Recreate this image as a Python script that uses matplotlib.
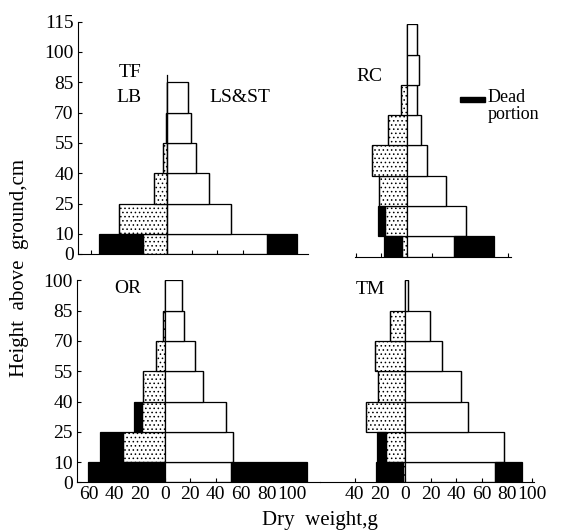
import matplotlib
matplotlib.use("Agg")
import matplotlib.pyplot as plt
from matplotlib.patches import Rectangle
from matplotlib.ticker import FuncFormatter

# layer bottoms / thicknesses (cm above ground)
layer_bottom = [0, 10, 25, 40, 55, 70, 85, 100]
layer_height = [10, 15, 15, 15, 15, 15, 15, 15]

# dry weight per layer, g  (LB = leaf blade, LS&ST = leaf sheath & stem)
tf_lb_live = [19, 37.5, 10, 2.6, 0.8, 0]
tf_lb_dead = [34, 0, 0, 0, 0, 0]
tf_ls_live = [79, 50.6, 33, 23.3, 19.4, 17]
tf_ls_dead = [23.6, 0, 0, 0, 0, 0]

rc_lb_live = [4, 17, 21.8, 27.6, 14.4, 4.5, 0, 0]
rc_lb_dead = [13.7, 5.8, 0, 0, 0, 0, 0, 0]
rc_ls_live = [37, 47, 30.7, 16.3, 11.3, 8.1, 10, 7.9]
rc_ls_dead = [31.8, 0, 0, 0, 0, 0, 0, 0]

or_lb_live = [0.5, 32.8, 17.8, 17.1, 7.3, 1.6, 0]
or_lb_dead = [60.4, 18.4, 6.3, 0, 0, 0, 0]
or_ls_live = [52, 53.8, 47.8, 30.2, 23.9, 14.7, 13.1]
or_ls_dead = [60.1, 0, 0, 0, 0, 0, 0]

tm_lb_live = [2, 15.2, 31, 21.8, 23.6, 12.1, 0]
tm_lb_dead = [21, 6.8, 0, 0, 0, 0, 0]
tm_ls_live = [70.6, 77.7, 49.1, 43.8, 29.1, 19.4, 2.1]
tm_ls_dead = [21, 0, 0, 0, 0, 0, 0]

ticks_tall = [0, 10, 25, 40, 55, 70, 85, 100, 115]
ticks_short = [0, 10, 25, 40, 55, 70, 85, 100]

W, H = 569, 531
SX, SY = 1.27, 2.02  # px per g, px per cm

plt.rcParams["font.family"] = ["Liberation Serif", "DejaVu Serif"]
plt.rcParams["hatch.linewidth"] = 0.6
FS = 14

fig = plt.figure(figsize=(W / 100, H / 100), dpi=100)
fig.patch.set_facecolor("white")


def make_axes(center, base, xlim, ylim):
    x0 = center + xlim[0] * SX
    x1 = center + xlim[1] * SX
    y1 = base - ylim[1] * SY
    ax = fig.add_axes([x0 / W, 1 - base / H, (x1 - x0) / W, (base - y1) / H])
    ax.set_xlim(*xlim)
    ax.set_ylim(*ylim)
    ax.set_facecolor("none")
    for s in ("top", "right"):
        ax.spines[s].set_visible(False)
    ax.tick_params(direction="in", length=3, labelsize=FS, pad=3)
    return ax


def draw(ax, lb_live, lb_dead, ls_live, ls_dead):
    n = len(lb_live)
    b = layer_bottom[:n]
    h = layer_height[:n]
    neg_live = [-v for v in lb_live]
    neg_dead = [-v for v in lb_dead]
    kw = dict(height=h, align="edge", edgecolor="black", linewidth=0.9)
    ax.barh(b, neg_live, left=0, facecolor="white", hatch="....", **kw)
    ax.barh(b, neg_dead, left=neg_live, facecolor="black", **kw)
    ax.barh(b, ls_live, left=0, facecolor="white", **kw)
    ax.barh(b, ls_dead, left=ls_live, facecolor="black", **kw)


absfmt = FuncFormatter(lambda v, p: f"{abs(v):g}")

# TF
ax_tf = make_axes(166.7, 254, (-70, 111), (0, 115))
draw(ax_tf, tf_lb_live, tf_lb_dead, tf_ls_live, tf_ls_dead)
ax_tf.plot([0, 0], [0, 88.5], color="black", lw=0.9)
ax_tf.set_yticks(ticks_tall)
ax_tf.set_xticks(range(-60, 101, 20))
ax_tf.tick_params(axis="x", labelbottom=False)
ax_tf.text(-29, 90, "TF", fontsize=FS, ha="center", va="center")
ax_tf.text(-30, 77.7, "LB", fontsize=FS, ha="center", va="center")
ax_tf.text(57.7, 77.7, "LS&ST", fontsize=FS, ha="center", va="center")

# RC
ax_rc = make_axes(406.7, 256.5, (-41, 82), (0, 115))
draw(ax_rc, rc_lb_live, rc_lb_dead, rc_ls_live, rc_ls_dead)
ax_rc.spines["left"].set_visible(False)
ax_rc.set_yticks([])
ax_rc.set_xticks(range(-40, 81, 20))
ax_rc.tick_params(axis="x", labelbottom=False)
ax_rc.text(-29, 88.9, "RC", fontsize=FS, ha="center", va="center")
ax_rc.add_patch(Rectangle((42, 76.5), 19.5, 2.6, facecolor="black",
                          edgecolor="black", clip_on=False))
ax_rc.text(64, 78.5, "Dead", fontsize=13, ha="left", va="center", clip_on=False)
ax_rc.text(64, 70.5, "portion", fontsize=13, ha="left", va="center", clip_on=False)

# OR
ax_or = make_axes(165, 482.3, (-69.3, 122.0), (0, 100))
draw(ax_or, or_lb_live, or_lb_dead, or_ls_live, or_ls_dead)
ax_or.set_yticks(ticks_short)
ax_or.set_xticks(range(-60, 101, 20))
ax_or.xaxis.set_major_formatter(absfmt)
ax_or.text(-29, 95.7, "OR", fontsize=FS, ha="center", va="center")

# TM
ax_tm = make_axes(405.3, 482.3, (-67.2, 101.6), (0, 100))
draw(ax_tm, tm_lb_live, tm_lb_dead, tm_ls_live, tm_ls_dead)
ax_tm.spines["left"].set_visible(False)
ax_tm.set_yticks([])
ax_tm.set_xticks(range(-40, 101, 20))
ax_tm.xaxis.set_major_formatter(absfmt)
ax_tm.text(-27.8, 95.2, "TM", fontsize=FS, ha="center", va="center")

fig.text(20 / W, 1 - 268 / H, "Height  above  ground,cm", rotation=90,
         fontsize=15, ha="center", va="center")
fig.text(320 / W, 1 - 520 / H, "Dry  weight,g", fontsize=15,
         ha="center", va="center")

fig.savefig("out.png", dpi=100)
